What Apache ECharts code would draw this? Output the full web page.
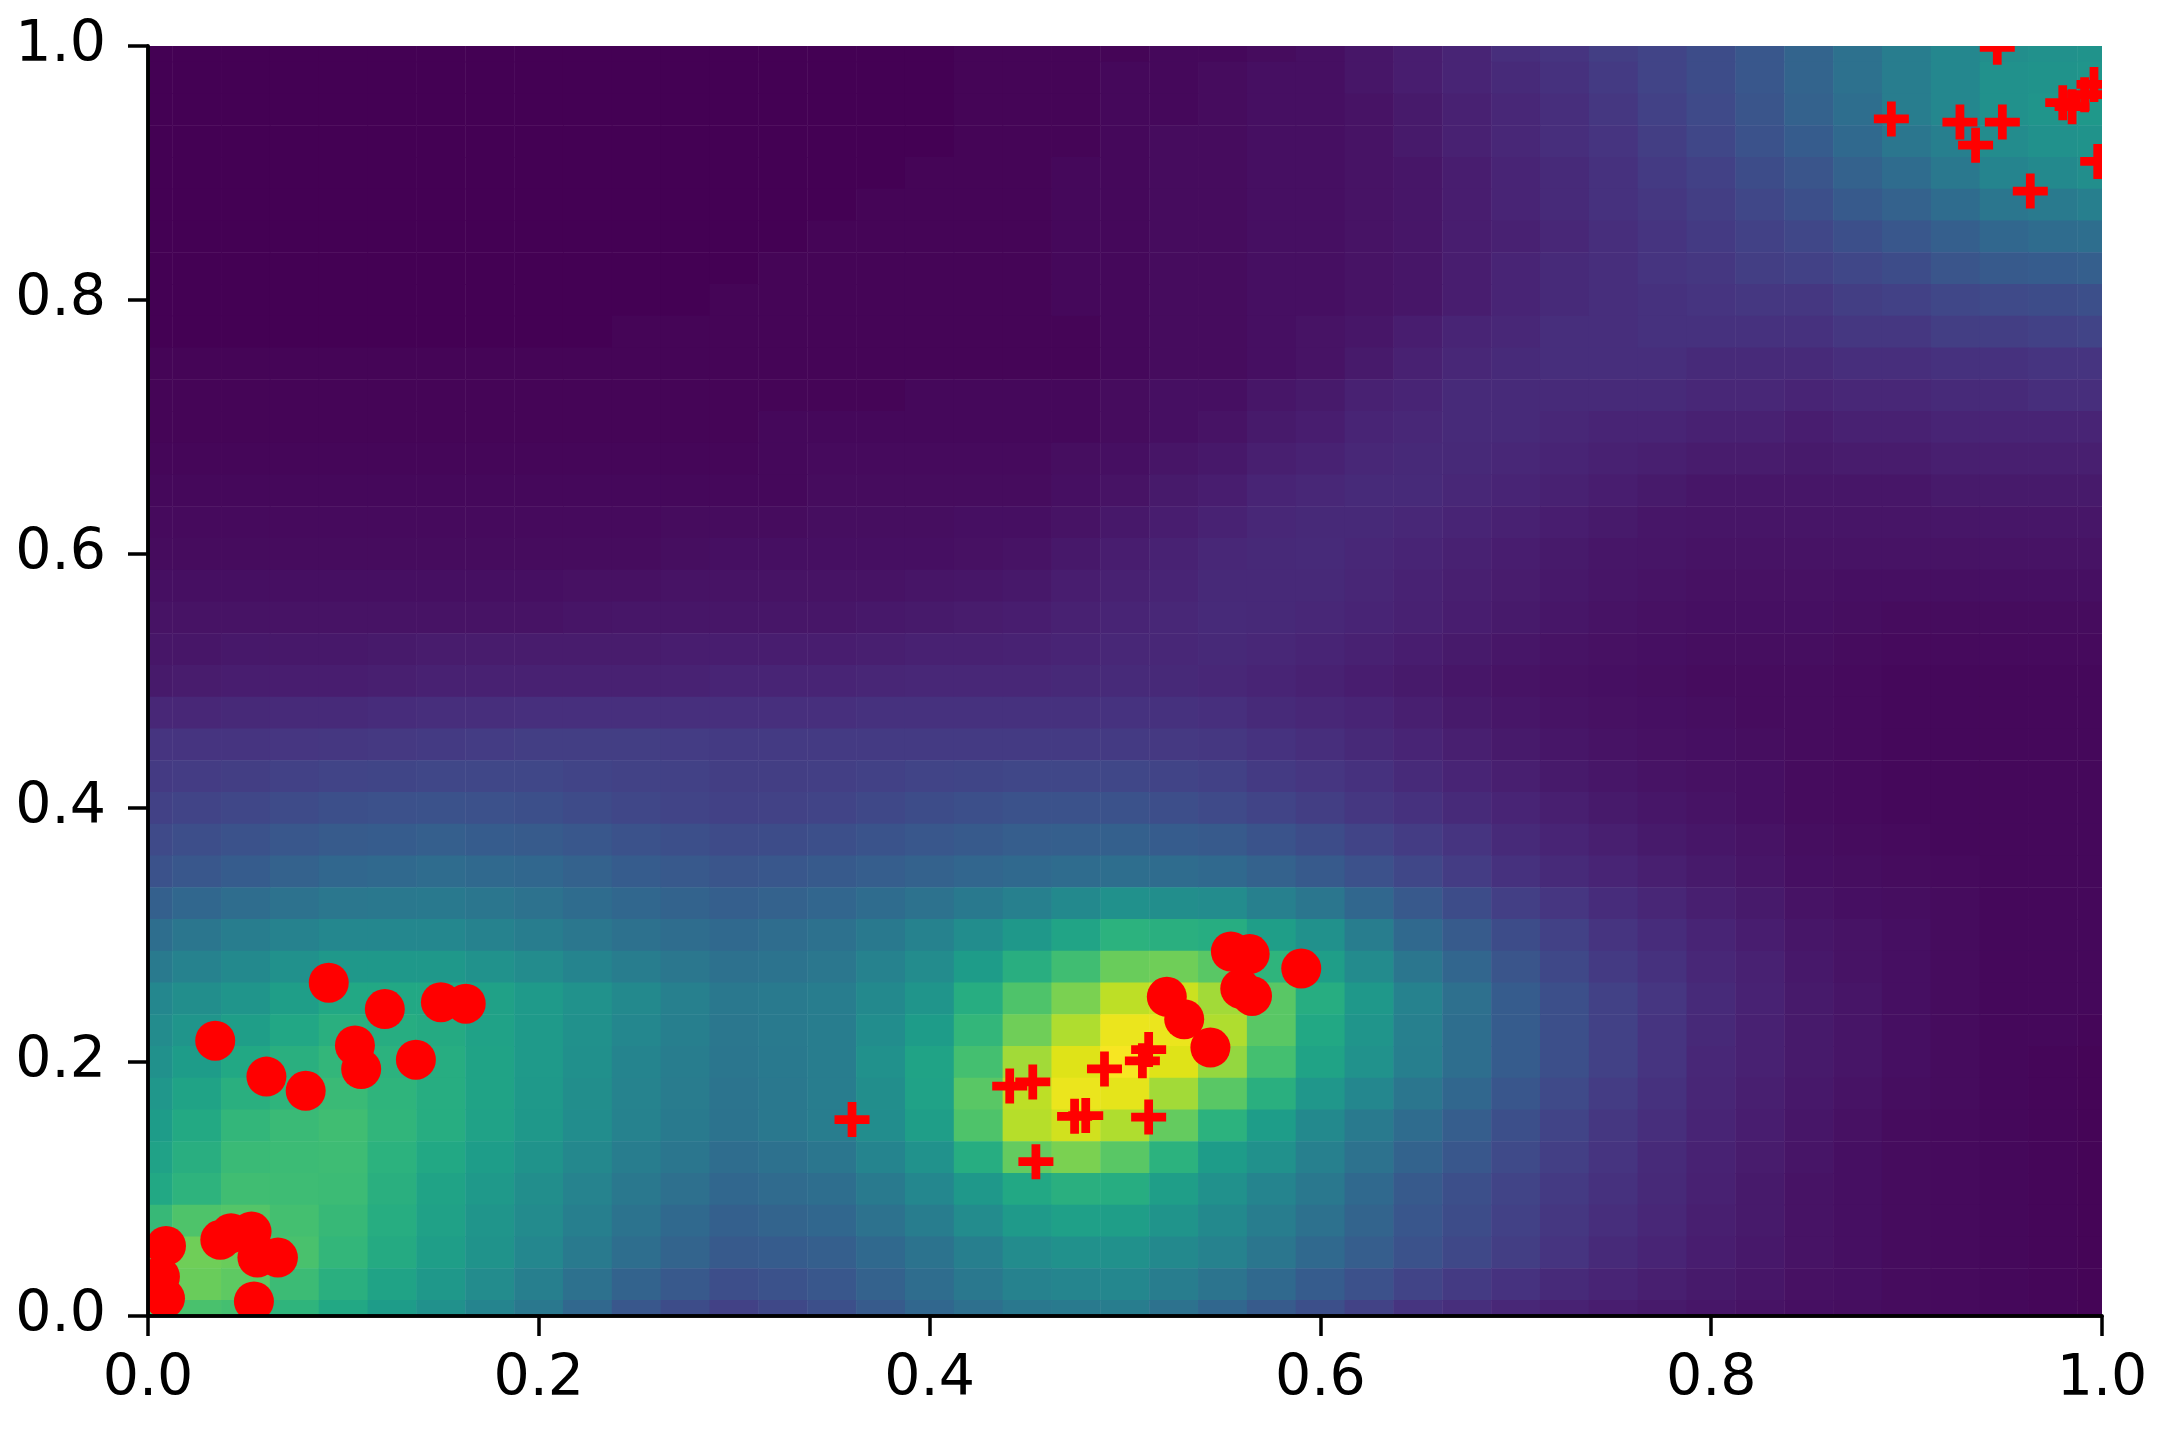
<!DOCTYPE html>
<html>
<head>
<meta charset="utf-8">
<script src="https://cdn.jsdelivr.net/npm/echarts@6/dist/echarts.min.js"></script>
<style>
  html, body { margin: 0; padding: 0; background: #fff; }
  #chart { width: 2161px; height: 1445px; }
</style>
</head>
<body>
<div id="chart"></div>
<script>
// sample positions of the density grid (x left->right, y bottom->top)
const cellX = ['0.000','0.025','0.050','0.075','0.100','0.125','0.150','0.175','0.200','0.225',
  '0.250','0.275','0.300','0.325','0.350','0.375','0.400','0.425','0.450','0.475','0.500',
  '0.525','0.550','0.575','0.600','0.625','0.650','0.675','0.700','0.725','0.750','0.775',
  '0.800','0.825','0.850','0.875','0.900','0.925','0.950','0.975','1.000'];
const cellY = cellX.slice();

// density, rows from top (y=1.0) down to bottom (y=0.0)
const field = [
  [0,0,0,0,0,0,0,0,0,0,0,0,0,0,0,0,0,.01,.01,.01,.01,.02,.02,.03,.04,.06,.08,.10,.13,.15,.18,.20,.23,.27,.32,.37,.42,.46,.49,.50,.51],
  [0,0,0,0,0,0,0,0,0,0,0,0,0,0,0,0,0,.01,.01,.01,.02,.02,.03,.04,.04,.06,.08,.10,.12,.14,.17,.20,.23,.27,.32,.37,.42,.46,.50,.51,.52],
  [0,0,0,0,0,0,0,0,0,0,0,0,0,0,0,0,0,.01,.01,.01,.02,.02,.03,.04,.04,.05,.07,.09,.11,.13,.16,.19,.22,.26,.31,.36,.42,.46,.50,.52,.53],
  [0,0,0,0,0,0,0,0,0,0,0,0,0,0,0,0,0,.01,.01,.01,.02,.03,.03,.04,.04,.05,.07,.09,.11,.13,.15,.18,.21,.25,.29,.34,.39,.43,.48,.50,.51],
  [0,0,0,0,0,0,0,0,0,0,0,0,0,0,0,0,.01,.01,.01,.02,.02,.03,.03,.04,.04,.05,.06,.08,.10,.12,.14,.17,.19,.23,.26,.31,.35,.40,.45,.47,.49],
  [0,0,0,0,0,0,0,0,0,0,0,0,0,0,0,.01,.01,.01,.01,.02,.02,.03,.03,.04,.04,.05,.06,.08,.10,.12,.14,.16,.18,.21,.24,.28,.31,.35,.39,.41,.43],
  [0,0,0,0,0,0,0,0,0,0,0,0,0,0,.01,.01,.01,.01,.01,.02,.02,.03,.03,.04,.04,.05,.06,.08,.09,.11,.13,.15,.17,.19,.21,.24,.27,.30,.33,.35,.36],
  [0,0,0,0,0,0,0,0,0,0,0,0,0,.01,.01,.01,.01,.01,.01,.02,.02,.03,.03,.04,.04,.05,.06,.08,.10,.12,.13,.15,.16,.18,.19,.21,.23,.26,.28,.29,.30],
  [0,0,0,0,0,0,0,0,0,0,0,0,.01,.01,.01,.01,.01,.01,.01,.02,.02,.03,.03,.04,.04,.05,.06,.08,.10,.12,.13,.14,.15,.16,.16,.18,.19,.21,.22,.23,.24],
  [0,0,0,0,0,0,0,0,0,0,.01,.01,.01,.01,.01,.01,.01,.01,.01,.01,.02,.03,.03,.04,.05,.06,.08,.10,.11,.13,.13,.14,.14,.14,.14,.16,.16,.18,.18,.19,.20],
  [.01,.01,.01,.01,.01,.01,.01,.01,.01,.01,.01,.01,.01,.01,.01,.01,.01,.01,.01,.01,.02,.03,.03,.04,.05,.07,.09,.11,.12,.13,.13,.13,.12,.12,.12,.13,.13,.14,.14,.15,.15],
  [.01,.01,.01,.01,.01,.01,.01,.01,.01,.01,.01,.01,.01,.01,.01,.01,.02,.02,.02,.02,.03,.04,.04,.06,.07,.09,.10,.12,.12,.12,.12,.12,.11,.11,.10,.11,.11,.12,.12,.13,.13],
  [.01,.01,.01,.01,.01,.01,.01,.01,.01,.01,.01,.01,.01,.02,.02,.02,.02,.02,.02,.02,.03,.04,.05,.07,.08,.10,.11,.12,.12,.11,.10,.10,.09,.09,.08,.09,.09,.10,.10,.10,.10],
  [.015,.015,.015,.015,.015,.015,.015,.015,.015,.015,.015,.015,.015,.02,.025,.025,.025,.025,.025,.035,.04,.055,.065,.085,.095,.11,.115,.115,.11,.10,.09,.085,.075,.075,.07,.075,.075,.085,.085,.085,.085],
  [.02,.02,.02,.02,.02,.02,.02,.02,.02,.02,.02,.02,.02,.02,.03,.03,.03,.03,.03,.04,.05,.07,.08,.10,.11,.12,.12,.11,.10,.09,.08,.07,.06,.06,.06,.06,.06,.07,.07,.07,.07],
  [.025,.025,.025,.025,.025,.025,.025,.025,.025,.025,.025,.03,.03,.03,.035,.035,.035,.04,.04,.05,.065,.08,.095,.11,.115,.115,.11,.10,.09,.08,.07,.06,.055,.055,.055,.055,.055,.06,.06,.06,.06],
  [.03,.03,.03,.03,.03,.03,.03,.03,.03,.03,.03,.035,.04,.04,.04,.04,.04,.045,.05,.065,.08,.095,.11,.115,.12,.11,.10,.09,.08,.07,.06,.055,.05,.05,.05,.05,.05,.05,.05,.05,.05],
  [.04,.04,.04,.04,.04,.04,.04,.04,.04,.045,.045,.05,.05,.05,.05,.05,.055,.06,.065,.08,.09,.10,.115,.115,.115,.105,.095,.085,.075,.065,.055,.05,.045,.045,.045,.04,.04,.04,.04,.04,.04],
  [.05,.05,.05,.05,.05,.05,.05,.05,.05,.055,.06,.06,.06,.06,.06,.065,.07,.075,.08,.09,.10,.11,.12,.115,.11,.10,.09,.08,.07,.06,.05,.045,.04,.04,.04,.035,.03,.03,.03,.03,.03],
  [.06,.06,.065,.065,.065,.07,.075,.075,.075,.075,.075,.08,.08,.08,.08,.085,.09,.09,.095,.10,.11,.11,.115,.11,.10,.09,.08,.07,.06,.05,.045,.04,.035,.035,.035,.03,.025,.025,.025,.025,.025],
  [.07,.075,.08,.08,.08,.085,.09,.09,.09,.09,.09,.095,.10,.10,.10,.105,.11,.11,.11,.115,.12,.115,.11,.10,.09,.08,.07,.06,.05,.045,.04,.035,.03,.03,.03,.025,.02,.02,.02,.02,.02],
  [.11,.11,.115,.12,.12,.125,.13,.13,.135,.135,.135,.135,.135,.135,.135,.14,.14,.14,.14,.14,.145,.14,.135,.12,.11,.10,.085,.07,.06,.05,.045,.04,.035,.03,.03,.025,.02,.02,.02,.02,.02],
  [.15,.15,.15,.155,.16,.165,.17,.175,.18,.18,.18,.175,.17,.17,.17,.17,.17,.17,.17,.17,.17,.165,.16,.145,.13,.115,.10,.085,.07,.06,.05,.045,.04,.035,.03,.025,.02,.02,.02,.02,.02],
  [.17,.175,.18,.19,.20,.205,.21,.21,.21,.20,.195,.19,.18,.18,.185,.19,.20,.205,.21,.21,.21,.20,.19,.17,.155,.14,.12,.10,.085,.07,.06,.05,.045,.04,.03,.025,.02,.02,.02,.02,.02],
  [.19,.20,.21,.225,.24,.245,.25,.245,.24,.225,.21,.20,.19,.195,.20,.215,.23,.24,.25,.25,.25,.235,.22,.20,.18,.16,.14,.12,.10,.085,.07,.06,.05,.04,.03,.025,.02,.02,.02,.02,.02],
  [.22,.235,.25,.27,.285,.29,.30,.29,.285,.27,.25,.24,.225,.23,.24,.255,.27,.28,.295,.30,.305,.29,.28,.255,.23,.20,.175,.15,.12,.10,.085,.07,.06,.05,.035,.03,.025,.02,.02,.02,.02],
  [.25,.27,.29,.31,.33,.34,.35,.34,.33,.31,.29,.275,.26,.27,.28,.295,.31,.325,.34,.35,.36,.35,.34,.31,.28,.245,.21,.175,.14,.12,.10,.085,.07,.055,.04,.035,.03,.025,.02,.02,.02],
  [.305,.33,.355,.375,.395,.40,.405,.39,.375,.35,.33,.315,.30,.31,.325,.35,.375,.405,.435,.47,.50,.49,.48,.435,.39,.33,.275,.23,.185,.155,.125,.105,.085,.07,.05,.04,.035,.03,.02,.02,.02],
  [.36,.39,.42,.44,.46,.46,.46,.44,.42,.395,.37,.355,.34,.355,.37,.405,.44,.485,.53,.585,.64,.63,.62,.56,.50,.42,.34,.285,.23,.19,.15,.125,.10,.08,.06,.05,.04,.03,.02,.02,.02],
  [.41,.44,.47,.50,.53,.53,.53,.505,.48,.45,.42,.395,.37,.38,.395,.44,.48,.55,.625,.69,.77,.78,.74,.65,.56,.475,.39,.325,.26,.215,.17,.14,.11,.09,.065,.05,.04,.03,.02,.02,.02],
  [.46,.49,.52,.56,.60,.60,.60,.57,.54,.505,.47,.435,.40,.41,.42,.47,.52,.62,.72,.80,.90,.92,.86,.74,.62,.53,.44,.365,.29,.24,.19,.155,.12,.095,.07,.055,.04,.03,.02,.02,.02],
  [.48,.52,.56,.595,.63,.62,.61,.575,.54,.50,.46,.43,.395,.41,.42,.485,.55,.66,.78,.88,.97,.97,.88,.74,.60,.52,.435,.36,.29,.24,.19,.15,.115,.09,.07,.055,.04,.03,.02,.02,.015],
  [.50,.55,.60,.63,.66,.64,.62,.58,.54,.495,.45,.42,.39,.405,.42,.50,.58,.70,.86,.95,.99,.95,.84,.70,.58,.505,.43,.36,.29,.24,.19,.15,.11,.09,.07,.055,.04,.03,.02,.015,.01],
  [.525,.58,.63,.65,.675,.65,.62,.58,.535,.49,.445,.415,.385,.40,.42,.49,.575,.74,.90,.97,.96,.86,.74,.63,.525,.46,.39,.33,.265,.22,.175,.14,.105,.085,.065,.05,.035,.03,.02,.015,.01],
  [.55,.605,.66,.675,.69,.655,.62,.575,.53,.485,.44,.41,.38,.40,.42,.485,.56,.72,.89,.93,.88,.76,.64,.555,.47,.41,.35,.295,.24,.20,.16,.13,.10,.08,.06,.045,.03,.025,.02,.015,.01],
  [.575,.625,.675,.68,.685,.64,.60,.555,.51,.465,.42,.39,.355,.37,.39,.45,.505,.62,.76,.80,.74,.64,.55,.50,.435,.375,.315,.27,.22,.185,.15,.12,.095,.075,.055,.04,.03,.025,.02,.015,.01],
  [.60,.645,.69,.685,.68,.63,.58,.535,.49,.445,.40,.365,.33,.345,.36,.41,.46,.53,.60,.63,.62,.56,.50,.45,.40,.34,.28,.24,.20,.17,.14,.115,.09,.07,.05,.04,.03,.025,.02,.015,.01],
  [.67,.72,.73,.70,.67,.62,.57,.52,.475,.43,.38,.34,.305,.32,.33,.375,.42,.48,.54,.565,.56,.515,.47,.42,.37,.32,.265,.23,.19,.16,.13,.11,.085,.07,.05,.04,.03,.025,.02,.015,.01],
  [.76,.78,.77,.71,.66,.61,.56,.51,.46,.41,.36,.32,.28,.29,.30,.34,.38,.43,.48,.50,.50,.47,.44,.39,.34,.295,.25,.215,.18,.15,.12,.10,.08,.065,.05,.04,.03,.025,.02,.015,.01],
  [.75,.77,.75,.68,.63,.58,.53,.48,.43,.37,.315,.275,.235,.25,.27,.31,.355,.40,.44,.455,.46,.42,.385,.34,.29,.245,.20,.17,.145,.12,.10,.085,.07,.06,.045,.04,.03,.025,.02,.015,.01],
  [.72,.71,.70,.65,.60,.55,.50,.45,.40,.335,.27,.23,.19,.215,.24,.285,.33,.365,.40,.41,.42,.375,.33,.285,.24,.195,.15,.13,.11,.095,.08,.07,.06,.05,.04,.035,.03,.025,.02,.015,.01]
];

// red circles
const circles = [
  [0.0925,0.2624],[0.0344,0.2168],[0.1212,0.2417],[0.1499,0.2471],[0.1626,0.2459],
  [0.1059,0.2130],[0.1091,0.1945],[0.1371,0.2018],[0.0606,0.1885],[0.0807,0.1773],
  [0.0092,0.0552],[0.0370,0.0600],[0.0425,0.0652],[0.0530,0.0665],[0.0560,0.0460],
  [0.0665,0.0460],[0.0542,0.0115],[0.0061,0.0309],[0.0087,0.0139],
  [0.5542,0.2870],[0.5638,0.2850],[0.5902,0.2736],[0.5590,0.2577],[0.5650,0.2520],
  [0.5214,0.2513],[0.5303,0.2337],[0.5437,0.2114]
];

// red plus markers
const pluses = [
  [0.3603,0.1547],[0.4410,0.1811],[0.4528,0.1843],[0.4742,0.1572],[0.4799,0.1578],
  [0.4544,0.1215],[0.4895,0.1945],[0.5121,0.2098],[0.5089,0.2009],[0.5121,0.1566],
  [0.8922,0.9426],[0.9273,0.9401],[0.9353,0.9219],[0.9490,0.9401],[0.9633,0.8858],
  [0.9799,0.9554],[0.9847,0.9522],[0.9911,0.9617],[0.9959,0.9697],[0.9978,0.9091],
  [0.9464,0.9990]
];

const xTicks = [0, 0.2, 0.4, 0.6, 0.8, 1.0];
const yTicks = [0, 0.2, 0.4, 0.6, 0.8, 1.0];

const viridis = ['#440154','#471365','#482475','#463480','#414487','#3b528b','#355f8d',
  '#2f6c8e','#2a788e','#25848e','#21918c','#1e9c89','#22a884','#2fb47c','#44bf70',
  '#5ec962','#7ad151','#9bd93c','#bddf26','#dfe318','#fde725'];

const heatData = [];
field.forEach((row, r) => {
  row.forEach((v, c) => {
    heatData.push([c, field.length - 1 - r, v]);
  });
});

const chart = echarts.init(document.getElementById('chart'));

const L = 148, T = 46, W = 1954, H = 1270;
const nx = cellX.length - 1, ny = cellY.length - 1;
const lineW = 3.5;
const axisFont = { fontSize: 57, color: '#000', fontFamily: 'DejaVu Sans' };

const option = {
  animation: false,
  backgroundColor: '#fff',
  grid: [
    // heatmap grid is half a cell wider on each side so cells centre on the samples
    { left: L - W / nx / 2, top: T - H / ny / 2, width: W + W / nx, height: H + H / ny },
    { left: L, top: T, width: W, height: H }
  ],
  visualMap: {
    type: 'continuous',
    show: false,
    seriesIndex: 0,
    min: 0,
    max: 1,
    inRange: { color: viridis }
  },
  xAxis: [
    { gridIndex: 0, type: 'category', data: cellX, show: false, boundaryGap: true },
    {
      gridIndex: 1, type: 'value', position: 'bottom', min: 0, max: 1, interval: 0.2, z: 10,
      axisLine: { lineStyle: { color: '#000', width: lineW } },
      axisTick: { length: 20, lineStyle: { color: '#000', width: lineW } },
      axisLabel: Object.assign({ margin: 36, formatter: v => v.toFixed(1),
        customValues: xTicks }, axisFont),
      splitLine: { show: false }
    },
    {
      gridIndex: 1, type: 'value', position: 'top', min: 0, max: 1, z: 10,
      axisLine: { lineStyle: { color: '#000', width: lineW } },
      axisTick: { show: false }, axisLabel: { show: false }, splitLine: { show: false }
    }
  ],
  yAxis: [
    { gridIndex: 0, type: 'category', data: cellY, show: false, boundaryGap: true },
    {
      gridIndex: 1, type: 'value', position: 'left', min: 0, max: 1, interval: 0.2, z: 10,
      axisLine: { lineStyle: { color: '#000', width: lineW } },
      axisTick: { length: 20, lineStyle: { color: '#000', width: lineW } },
      axisLabel: Object.assign({ margin: 42, formatter: v => v.toFixed(1),
        customValues: yTicks }, axisFont),
      splitLine: { show: false }
    },
    {
      gridIndex: 1, type: 'value', position: 'right', min: 0, max: 1, z: 10,
      axisLine: { lineStyle: { color: '#000', width: lineW } },
      axisTick: { show: false }, axisLabel: { show: false }, splitLine: { show: false }
    }
  ],
  // white margins hide whatever spills past the frame
  graphic: [
    { type: 'rect', z: 5, silent: true, shape: { x: 0, y: 0, width: 2161, height: T }, style: { fill: '#fff' } },
    { type: 'rect', z: 5, silent: true, shape: { x: 0, y: T + H, width: 2161, height: 1445 - T - H }, style: { fill: '#fff' } },
    { type: 'rect', z: 5, silent: true, shape: { x: 0, y: 0, width: L, height: 1445 }, style: { fill: '#fff' } },
    { type: 'rect', z: 5, silent: true, shape: { x: L + W, y: 0, width: 2161 - L - W, height: 1445 }, style: { fill: '#fff' } }
  ],
  series: [
    {
      type: 'heatmap',
      xAxisIndex: 0, yAxisIndex: 0,
      data: heatData,
      progressive: 0,
      emphasis: { disabled: true }
    },
    {
      type: 'scatter',
      xAxisIndex: 1, yAxisIndex: 1,
      data: circles,
      symbol: 'circle',
      symbolSize: 40,
      itemStyle: { color: '#ff0000', opacity: 1 },
      clip: false, z: 3
    },
    {
      type: 'scatter',
      xAxisIndex: 1, yAxisIndex: 1,
      data: pluses,
      symbol: 'path://M3,0H5V3H8V5H5V8H3V5H0V3H3Z',
      symbolSize: 35,
      itemStyle: { color: '#ff0000', opacity: 1 },
      clip: false, z: 3
    }
  ]
};

chart.setOption(option);
</script>
</body>
</html>
